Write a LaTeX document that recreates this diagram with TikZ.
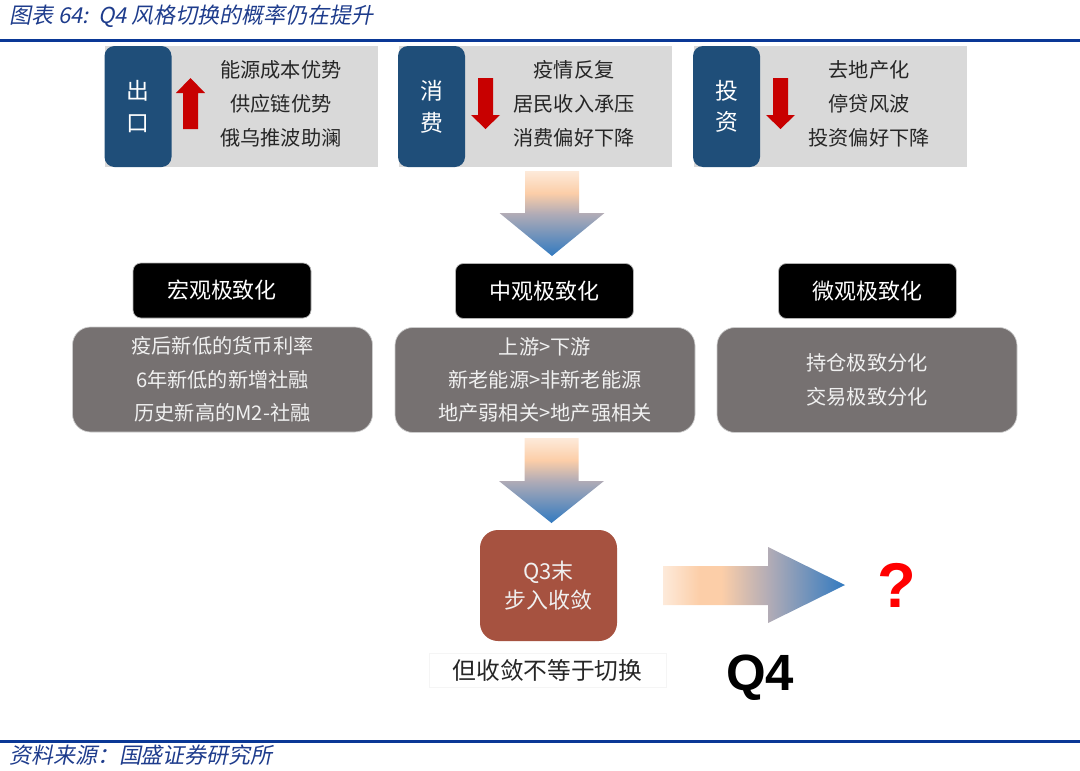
\documentclass[tikz,border=0pt]{standalone}
\usepackage{fontspec}
\setmainfont{Noto Sans CJK SC}
\newfontfamily\slantfont[FakeSlant=0.2]{Noto Sans CJK SC}
\newfontfamily\arialfont{Liberation Sans}
\usetikzlibrary{positioning}

\newdimen\pxu \pxu=0.02cm

\definecolor{rulecolor}{RGB}{10,56,150}
\definecolor{titleblue}{RGB}{30,60,140}
\definecolor{panelgrey}{RGB}{217,217,217}
\definecolor{sideblue}{RGB}{31,78,121}
\definecolor{arrowred}{RGB}{200,0,0}
\definecolor{textdark}{RGB}{38,38,38}
\definecolor{boxgrey}{RGB}{118,113,113}
\definecolor{q3red}{RGB}{166,82,64}
\definecolor{peachl}{RGB}{253,234,218}
\definecolor{peach}{RGB}{252,206,168}
\definecolor{arrgrey}{RGB}{178,172,182}
\definecolor{arrblue}{RGB}{50,122,192}

\pgfdeclareverticalshading{downgrad}{100bp}{color(0bp)=(arrblue); color(25bp)=(arrblue); color(50bp)=(arrgrey); color(62bp)=(peach); color(75bp)=(peachl); color(100bp)=(peachl)}
\pgfdeclarehorizontalshading{rightgrad}{100bp}{color(0bp)=(peachl); color(25bp)=(peachl); color(35bp)=(peach); color(41bp)=(peach); color(54bp)=(arrgrey); color(75bp)=(arrblue); color(100bp)=(arrblue)}

\begin{document}
\begin{tikzpicture}[
    x=0.02cm, y=-0.02cm,
    panel/.style={fill=panelgrey, inner sep=0pt, minimum width=273\pxu, minimum height=121\pxu},
    sidebox/.style={fill=sideblue, rounded corners=10\pxu, inner sep=0pt, minimum width=67\pxu, minimum height=121\pxu, text=white, align=center, font=\fontsize{13}{18}\selectfont},
    paneltext/.style={align=center, text=textdark, font=\fontsize{11.5}{19.3}\selectfont},
    levelbox/.style={fill=black, draw=gray!60, rounded corners=8\pxu, minimum width=178\pxu, minimum height=55\pxu, text=white, font=\fontsize{12.5}{15}\selectfont},
    detailbox/.style={fill=boxgrey, draw=gray!40, rounded corners=18\pxu, minimum width=300\pxu, minimum height=105\pxu, text=white!94!black, align=center, font=\fontsize{11.5}{19}\selectfont},
    redarrow/.style={fill=arrowred}
]
\useasboundingbox (0,0) rectangle (1080,771);

% 标题与来源
\node[anchor=west, text=titleblue, font=\slantfont\fontsize{12.5}{15}\selectfont] (title) at (3,16) {图表 64:\ \ Q4 风格切换的概率仍在提升};
\draw[rulecolor, line width=3\pxu] (0,40) -- (1080,40);
\draw[rulecolor, line width=3\pxu] (0,741) -- (1080,741);
\node[anchor=west, text=titleblue, font=\slantfont\fontsize{12.5}{15}\selectfont] (source) at (3,755) {资料来源：国盛证券研究所};

% 顶部三个板块
\node[panel] (exportpanel) at (241.5,106.5) {};
\node[panel] (consumepanel) at (535.5,106.5) {};
\node[panel] (investpanel) at (830.5,106.5) {};
\node[sidebox] (export) at (138,106.5) {出\\口};
\node[sidebox] (consume) at (431.5,106.5) {消\\费};
\node[sidebox] (invest) at (726.5,106.5) {投\\资};
\node[paneltext] (exporttext) at (281,104) {能源成本优势\\供应链优势\\俄乌推波助澜};
\node[paneltext] (consumetext) at (574,104) {疫情反复\\居民收入承压\\消费偏好下降};
\node[paneltext] (investtext) at (869,104) {去地产化\\停贷风波\\投资偏好下降};

% 红色箭头
\fill[redarrow] (183,129) -- (183,93) -- (176,93) -- (190.5,78) -- (205,93) -- (198,93) -- (198,129) -- cycle;
\foreach \cx in {485.5, 780.5}
  \fill[redarrow] (\cx-7.5,78) -- (\cx+7.5,78) -- (\cx+7.5,115) -- (\cx+14.5,115) -- (\cx,129) -- (\cx-14.5,115) -- (\cx-7.5,115) -- cycle;

% 渐变箭头
\foreach \cx/\ytop/\yhead/\ytip in {552/171/213/256, 551.5/438/481/523}
  \shade[shading=downgrad] (\cx-27,\ytop) -- (\cx+27,\ytop) -- (\cx+27,\yhead) -- (\cx+52.5,\yhead) -- (\cx,\ytip) -- (\cx-52.5,\yhead) -- (\cx-27,\yhead) -- cycle;
\shade[shading=rightgrad] (663,566) -- (768,566) -- (768,547) -- (845,585) -- (768,623) -- (768,605) -- (663,605) -- cycle;

% 三个层面
\node[levelbox] (macro) at (222,290.5) {宏观极致化};
\node[levelbox] (meso) at (544.5,291) {中观极致化};
\node[levelbox] (micro) at (867.5,291) {微观极致化};
\node[detailbox] (macrotext) at (222.5,379.5) {疫后新低的货币利率\\6年新低的新增社融\\历史新高的M2-社融};
\node[detailbox] (mesotext) at (545,380) {上游>下游\\新老能源>非新老能源\\地产弱相关>地产强相关};
\node[detailbox] (microtext) at (867,380) {持仓极致分化\\交易极致分化};

% 收敛与Q4
\node[fill=q3red, rounded corners=18\pxu, minimum width=137\pxu, minimum height=111\pxu, text=white!94!black, align=center, font=\fontsize{12.5}{16.5}\selectfont] (q3) at (548.5,585.5) {Q3末\\步入收敛};
\node[draw=gray!8, minimum width=237\pxu, minimum height=32\pxu, text=textdark, font=\fontsize{13.5}{16}\selectfont] (note) at (547.5,670) {但收敛不等于切换};
\node[font=\arialfont\bfseries\fontsize{29}{30}\selectfont] (q4) at (760,678) {Q4};
\node[text=red, font=\arialfont\bfseries\fontsize{36}{38}\selectfont] (ask) at (897,585) {?};

\end{tikzpicture}
\end{document}
